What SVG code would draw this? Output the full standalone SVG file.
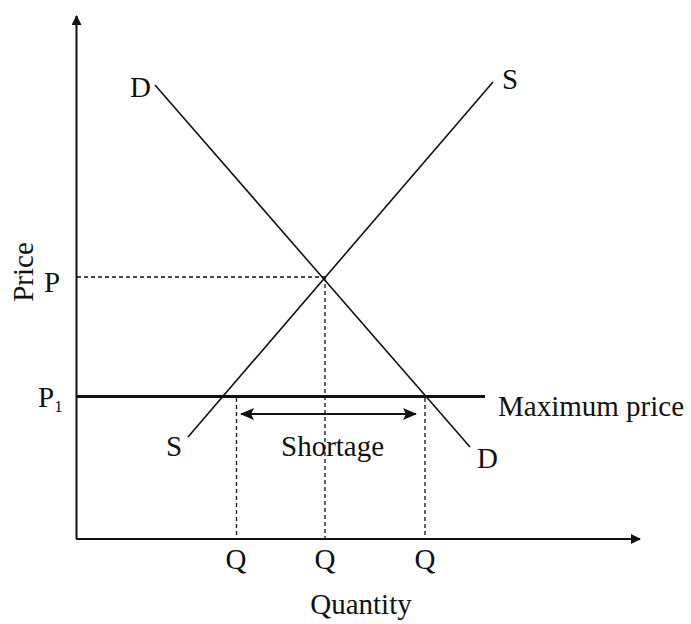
<svg xmlns="http://www.w3.org/2000/svg" width="691" height="624" viewBox="0 0 691 624">
<style>
text{font-family:"Liberation Serif","Times New Roman",serif;font-size:29px;fill:#111}
.ax{stroke:#111;stroke-width:2;fill:none}
.cv{stroke:#111;stroke-width:1.6;fill:none}
.dot{stroke:#111;stroke-width:1.3;stroke-dasharray:4 3;fill:none}
</style>
<defs>
<marker id="ah" viewBox="0 0 10 10" refX="9" refY="5" markerWidth="10" markerHeight="10" markerUnits="userSpaceOnUse" orient="auto-start-reverse"><path d="M0,0 L10,5 L0,10 Z" fill="#111"/></marker>
<marker id="ah2" viewBox="0 0 14 12" refX="13" refY="6" markerWidth="14" markerHeight="12" markerUnits="userSpaceOnUse" orient="auto-start-reverse"><path d="M0,0 L14,6 L0,12 L3,6 Z" fill="#111"/></marker>
</defs>
<g id="axes">
<line class="ax" x1="76.5" y1="539" x2="76.5" y2="16" marker-end="url(#ah)"/>
<line class="ax" x1="76" y1="539" x2="640" y2="539" marker-end="url(#ah)"/>
</g>
<g id="connectors">
<line class="dot" x1="77" y1="277" x2="325" y2="277"/>
<line class="dot" x1="325" y1="277" x2="325" y2="538"/>
<line class="dot" x1="236.5" y1="398" x2="236.5" y2="538"/>
<line class="dot" x1="425" y1="398" x2="425" y2="538"/>
<line class="ax" x1="241" y1="414" x2="416" y2="414" marker-start="url(#ah2)" marker-end="url(#ah2)"/>
</g>
<g id="demand">
<line class="cv" x1="155" y1="85" x2="470" y2="447"/>
<text x="130" y="97">D</text>
<text x="477" y="468">D</text>
</g>
<g id="supply">
<line class="cv" x1="188" y1="437" x2="493" y2="82"/>
<text x="502" y="89">S</text>
<text x="166" y="456">S</text>
</g>
<g id="maxprice">
<line stroke="#111" stroke-width="3" x1="77" y1="396.5" x2="485" y2="396.5"/>
<text x="498" y="416">Maximum price</text>
</g>
<g id="labels">
<text transform="translate(33,272) rotate(-90)" text-anchor="middle">Price</text>
<text x="44" y="292">P</text>
<text x="38" y="407">P<tspan font-size="17" dy="5">1</tspan></text>
<text x="281" y="456">Shortage</text>
<text x="236" y="569" text-anchor="middle">Q</text>
<text x="325" y="569" text-anchor="middle">Q</text>
<text x="425" y="569" text-anchor="middle">Q</text>
<text x="361" y="614" text-anchor="middle">Quantity</text>
</g>
</svg>
